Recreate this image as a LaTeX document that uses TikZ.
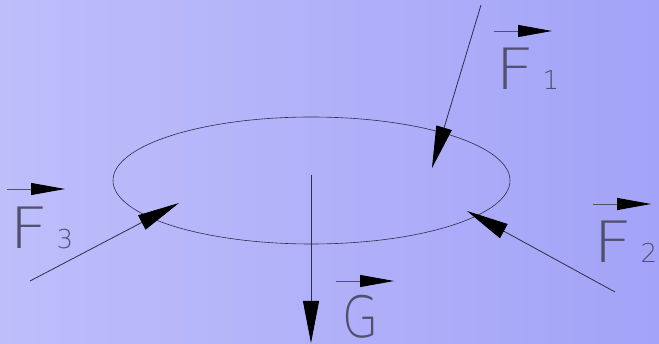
\documentclass[tikz,border=0pt]{standalone}
\usepackage{fontspec}
\newfontfamily\cadfont{DejaVu Sans ExtraLight}
\usetikzlibrary{arrows.meta, positioning, shapes.geometric}
\definecolor{bgleft}{HTML}{BEBEFB}
\definecolor{bgright}{HTML}{A3A3F8}
\definecolor{cline}{HTML}{2E2E48}
\definecolor{ctext}{HTML}{50506E}
\tikzset{
  every picture/.style={line width=0.8pt},
  force/.style={-{Triangle[length=42pt, width=16pt, black]}, draw=cline},
  vecarrow/.style={-{Triangle[length=34pt, width=12pt, black]}, draw=ctext},
  lbl/.style={font=\cadfont\fontsize{57}{57}\selectfont, text=ctext, inner sep=0pt, anchor=base west},
}
\newcommand{\idx}[1]{{\fontsize{26}{26}\selectfont\hspace{8pt}#1}}
\newcommand{\wideF}{\scalebox{1.2}[1]{F}}

\begin{document}
\begin{tikzpicture}[x=1pt, y=-1pt]
  \fill[left color=bgleft, right color=bgright] (0,0) rectangle (659,344);
  \useasboundingbox (0,0) rectangle (659,344);
  % the body
  \node[draw=cline, ellipse, minimum width=397pt, minimum height=127pt, inner sep=0pt, line width=0.6pt] (plate) at (311.5,180.5) {};
  % force lines
  \coordinate (f1tail) at (481,5);
  \coordinate (f1tip) at (432,168);
  \coordinate (f2tail) at (615,292);
  \coordinate (f2tip) at (467,211);
  \coordinate (f3tail) at (30,281);
  \coordinate (f3tip) at (179,203);
  \coordinate (gtail) at (311,175);
  \coordinate (gtip) at (311,343);
  \draw[force] (f1tail) -- (f1tip);
  \draw[force] (f2tail) -- (f2tip);
  \draw[force] (f3tail) -- (f3tip);
  \draw[force] (gtail) -- (gtip);
  % labels
  \node[lbl] (f1) at (495,90) {\wideF\idx{1}};
  \node[lbl] (f2) at (593,263) {\wideF\idx{2}};
  \node[lbl] (f3) at (9,249) {\wideF\idx{3}};
  \node[lbl] (g) at (342,338) {\scalebox{0.82}[1]{G}};
  \draw[vecarrow] ([shift={(-1,-59)}]f1.base west) -- ++(58,0);
  \draw[vecarrow] ([shift={(0,-59)}]f2.base west) -- ++(58,0);
  \draw[vecarrow] ([shift={(-2,-60)}]f3.base west) -- ++(58,0);
  \draw[vecarrow] ([shift={(-6,-57)}]g.base west) -- ++(58,0);
\end{tikzpicture}
\end{document}
